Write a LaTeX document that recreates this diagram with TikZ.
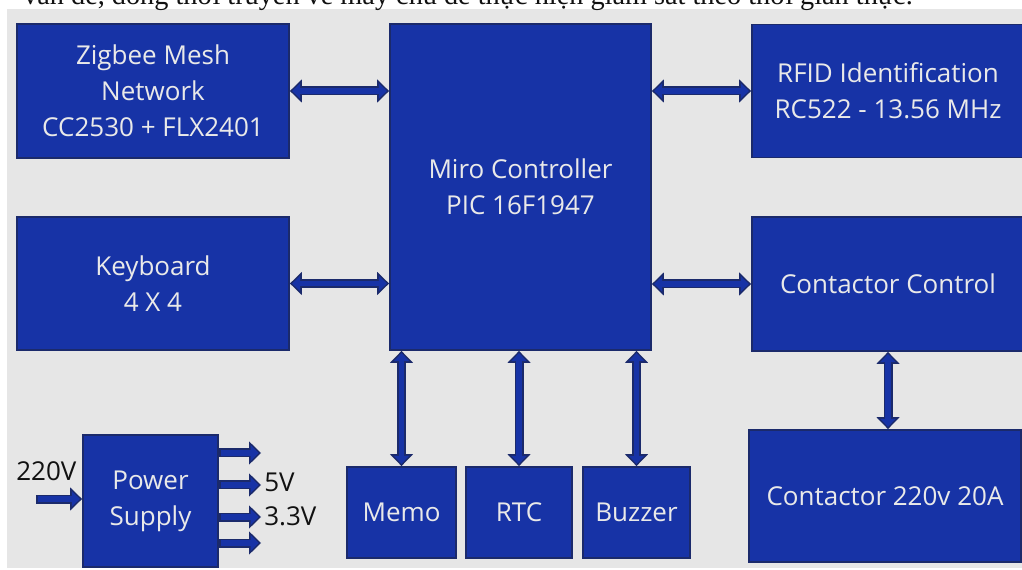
\documentclass[tikz,border=0pt]{standalone}
\usepackage{fontspec}
\setmainfont{Open Sans}
\newfontfamily\pageserif{Liberation Serif}
\usetikzlibrary{arrows.meta,positioning}
\definecolor{BDPage}{HTML}{FFFFFF}
\definecolor{BDCanvas}{HTML}{E6E6E6}
\definecolor{BDBlock}{HTML}{1733A6}
\definecolor{BDEdge}{HTML}{1B2A6B}
\definecolor{BDText}{HTML}{E9E9E9}
\definecolor{BDInk}{HTML}{111111}
\tikzset{
  outtip/.tip={Triangle[width=17.5pt,length=9pt,line width=0pt]},
  intip/.tip={Triangle[width=11.8pt,length=6pt,line width=0pt]},
  block/.style={draw=BDEdge,line width=1.4pt,fill=BDBlock,text=BDText,align=center,
                inner sep=0pt,font=\fontsize{19.5}{27}\selectfont},
  bus/.style={draw=BDEdge,line width=6.75pt,outtip-outtip,
              postaction={draw=BDBlock,line width=4.2pt,intip-intip,
                          shorten <=1.7pt,shorten >=1.7pt}},
  feed/.style={draw=BDEdge,line width=6.75pt,-outtip,
               postaction={draw=BDBlock,line width=4.2pt,-intip,
                           shorten <=1.2pt,shorten >=1.7pt}},
  volt/.style={text=BDInk,font=\fontsize{19.5}{23}\selectfont,inner sep=0pt},
  pageline/.style={text=BDInk,font=\pageserif\fontsize{21.2}{24}\selectfont,inner sep=0pt},
}

\begin{document}
\begin{tikzpicture}[x=0.75pt,y=-0.75pt]
  \clip (0,0) rectangle (1022,570);
  \fill[BDPage] (0,0) rectangle (1022,570);
  \fill[BDCanvas] (7,9) rectangle (1022,568);

  \node[pageline,anchor=base east] (page) at (913,5)
    {vấn đề, đồng thời truyền về máy chủ để thực hiện giám sát theo thời gian thực.};

  \node[block,minimum width=204pt,minimum height=100.5pt] (zig) at (153,91)
    {Zigbee Mesh\\Network\\CC2530 + FLX2401};
  \node[block,minimum width=204pt,minimum height=100pt] (kbd) at (153,283.5)
    {Keyboard\\4 X 4};
  \node[block,minimum width=195.75pt,minimum height=244.5pt] (mcu) at (520.5,187)
    {Miro Controller\\PIC 16F1947};
  \node[block,minimum width=204pt,minimum height=99.75pt] (rfid) at (888,91)
    {RFID Identification\\RC522 - 13.56 MHz};
  \node[block,minimum width=204pt,minimum height=100.5pt] (relay) at (888,284)
    {Contactor Control};
  \node[block,minimum width=204pt,minimum height=99pt] (load) at (885,496)
    {Contactor 220v 20A};
  \node[block,minimum width=81.75pt,minimum height=68.25pt] (memo) at (401.5,512.5) {Memo};
  \node[block,minimum width=79.5pt,minimum height=68.25pt] (rtc) at (519,512.5) {RTC};
  \node[block,minimum width=80.25pt,minimum height=68.25pt] (buzz) at (636.5,512.5) {Buzzer};
  \node[block,minimum width=101.25pt,minimum height=99pt] (psu) at (150.5,501)
    {Power\\Supply};

  \draw[bus] (zig.east) -- (zig.east -| mcu.west);
  \draw[bus] (kbd.east) -- (kbd.east -| mcu.west);
  \draw[bus] (mcu.east |- rfid.west) -- (rfid.west);
  \draw[bus] (mcu.east |- relay.west) -- (relay.west);
  \draw[bus] (memo.north |- mcu.south) -- (memo.north);
  \draw[bus] (rtc.north |- mcu.south) -- (rtc.north);
  \draw[bus] (buzz.north |- mcu.south) -- (buzz.north);
  \draw[bus] (relay.south) -- (relay.south |- load.north);

  \coordinate (mains) at (36,499);
  \coordinate (out1) at (261,453);
  \coordinate (out2) at (261,485);
  \coordinate (out3) at (261,517);
  \coordinate (out4) at (261,543);
  \draw[feed] (mains) -- (mains -| psu.west);
  \foreach \k in {1,...,4}
    \draw[feed] (out\k -| psu.east) -- (out\k);

  \node[volt,anchor=base west] (vin) at (16,480) {220V};
  \node[volt,anchor=base west] (v5) at (264,491) {5V};
  \node[volt,anchor=base west] (v33) at (264,526) {3.3V};
\end{tikzpicture}
\end{document}
